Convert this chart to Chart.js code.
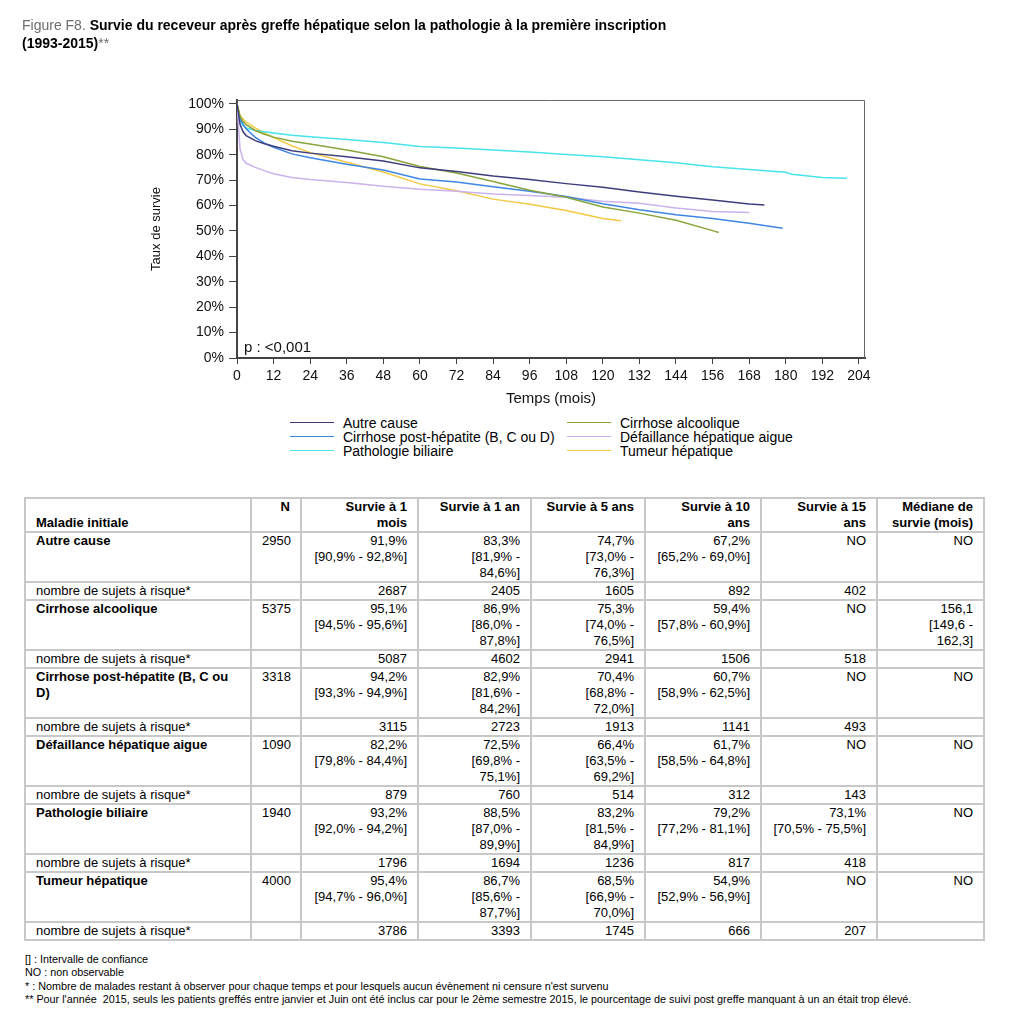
<!DOCTYPE html>
<html>
<head>
<meta charset="utf-8">
<script src="https://cdn.jsdelivr.net/npm/chart.js@4.4.1/dist/chart.umd.min.js"></script>
<style>
  body { margin: 0; width: 1020px; height: 1020px; position: relative; background: #fff;
         font-family: Arial, "Liberation Sans", sans-serif; color: #000; overflow: hidden; }
  #chartBox { position: absolute; left: 0; top: 0; width: 1020px; height: 410px; }
  .title { position: absolute; left: 22px; font-size: 14px; font-weight: bold; line-height: 18px; }
  .title .fig { color: #6e6e6e; font-weight: normal; }
  .leg { position: absolute; font-size: 14px; line-height: 16px; height: 16px; white-space: nowrap; }
  .leg i { position: absolute; top: 7px; height: 0; border-top: 1.5px solid; width: 44px; }
  .leg span { position: absolute; left: 53px; }
  table { position: absolute; left: 24px; top: 497px; width: 959px; border-collapse: collapse;
          table-layout: fixed; font-size: 13px; }
  td, th { border: 2px solid #c8c8c8; padding: 0 10px; line-height: 16px; vertical-align: top;
           text-align: right; white-space: nowrap; overflow: hidden; }
  th { font-weight: bold; }
  td.l, th.l { text-align: left; }
  th.l { vertical-align: bottom; }
  td.b { font-weight: bold; }
  tr.hd { height: 34px; }
  tr.m { height: 50px; }
  tr.n { height: 18px; }
  .notes { position: absolute; left: 25px; top: 953px; font-size: 10.8px; line-height: 13.4px; white-space: nowrap; }
</style>
</head>
<body>
<div id="chartBox"><canvas id="survChart" width="1020" height="410"></canvas></div>

<div class="title" style="top:16px"><span class="fig">Figure F8.</span> Survie du receveur après greffe hépatique selon la pathologie à la première inscription</div>
<div class="title" style="top:34px">(1993-2015)<span class="fig">**</span></div>

<div id="legend"></div>

<table>
  <colgroup>
    <col style="width:226px"><col style="width:50px"><col style="width:117px"><col style="width:113px">
    <col style="width:114px"><col style="width:116px"><col style="width:116px"><col style="width:107px">
  </colgroup>
  <tr class="hd"><th class="l">Maladie initiale</th><th>N</th><th>Survie à 1<br>mois</th><th>Survie à 1 an</th><th>Survie à 5 ans</th><th>Survie à 10<br>ans</th><th>Survie à 15<br>ans</th><th>Médiane de<br>survie (mois)</th></tr>
  <tr class="m"><td class="l b">Autre cause</td><td>2950</td><td>91,9%<br>[90,9% - 92,8%]</td><td>83,3%<br>[81,9% -<br>84,6%]</td><td>74,7%<br>[73,0% -<br>76,3%]</td><td>67,2%<br>[65,2% - 69,0%]</td><td>NO</td><td>NO</td></tr>
  <tr class="n"><td class="l">nombre de sujets à risque*</td><td></td><td>2687</td><td>2405</td><td>1605</td><td>892</td><td>402</td><td></td></tr>
  <tr class="m"><td class="l b">Cirrhose alcoolique</td><td>5375</td><td>95,1%<br>[94,5% - 95,6%]</td><td>86,9%<br>[86,0% -<br>87,8%]</td><td>75,3%<br>[74,0% -<br>76,5%]</td><td>59,4%<br>[57,8% - 60,9%]</td><td>NO</td><td>156,1<br>[149,6 -<br>162,3]</td></tr>
  <tr class="n"><td class="l">nombre de sujets à risque*</td><td></td><td>5087</td><td>4602</td><td>2941</td><td>1506</td><td>518</td><td></td></tr>
  <tr class="m"><td class="l b">Cirrhose post-hépatite (B, C ou<br>D)</td><td>3318</td><td>94,2%<br>[93,3% - 94,9%]</td><td>82,9%<br>[81,6% -<br>84,2%]</td><td>70,4%<br>[68,8% -<br>72,0%]</td><td>60,7%<br>[58,9% - 62,5%]</td><td>NO</td><td>NO</td></tr>
  <tr class="n"><td class="l">nombre de sujets à risque*</td><td></td><td>3115</td><td>2723</td><td>1913</td><td>1141</td><td>493</td><td></td></tr>
  <tr class="m"><td class="l b">Défaillance hépatique aigue</td><td>1090</td><td>82,2%<br>[79,8% - 84,4%]</td><td>72,5%<br>[69,8% -<br>75,1%]</td><td>66,4%<br>[63,5% -<br>69,2%]</td><td>61,7%<br>[58,5% - 64,8%]</td><td>NO</td><td>NO</td></tr>
  <tr class="n"><td class="l">nombre de sujets à risque*</td><td></td><td>879</td><td>760</td><td>514</td><td>312</td><td>143</td><td></td></tr>
  <tr class="m"><td class="l b">Pathologie biliaire</td><td>1940</td><td>93,2%<br>[92,0% - 94,2%]</td><td>88,5%<br>[87,0% -<br>89,9%]</td><td>83,2%<br>[81,5% -<br>84,9%]</td><td>79,2%<br>[77,2% - 81,1%]</td><td>73,1%<br>[70,5% - 75,5%]</td><td>NO</td></tr>
  <tr class="n"><td class="l">nombre de sujets à risque*</td><td></td><td>1796</td><td>1694</td><td>1236</td><td>817</td><td>418</td><td></td></tr>
  <tr class="m"><td class="l b">Tumeur hépatique</td><td>4000</td><td>95,4%<br>[94,7% - 96,0%]</td><td>86,7%<br>[85,6% -<br>87,7%]</td><td>68,5%<br>[66,9% -<br>70,0%]</td><td>54,9%<br>[52,9% - 56,9%]</td><td>NO</td><td>NO</td></tr>
  <tr class="n"><td class="l">nombre de sujets à risque*</td><td></td><td>3786</td><td>3393</td><td>1745</td><td>666</td><td>207</td><td></td></tr>
</table>

<div class="notes">
  [] : Intervalle de confiance<br>
  NO : non observable<br>
  * : Nombre de malades restant à observer pour chaque temps et pour lesquels aucun évènement ni censure n'est survenu<br>
  ** Pour l'année&nbsp; 2015, seuls les patients greffés entre janvier et Juin ont été inclus car pour le 2ème semestre 2015, le pourcentage de suivi post greffe manquant à un an était trop élevé.
</div>

<script>
// Survival curves (months after transplant, % surviving)
const monthsAutre = [0, 1, 2, 3, 6, 9, 12, 18, 24, 36, 48, 60, 72, 84, 96, 108, 120, 132, 144, 156, 168, 173];
const survAutre   = [100, 91.9, 89, 87.5, 85.5, 84.3, 83.3, 81.5, 80.6, 79.2, 77.5, 74.8, 73.4, 71.6, 70.2, 68.6, 67.2, 65.3, 63.6, 62.2, 60.6, 60.2];

const monthsAlcool = [0, 1, 2, 3, 6, 9, 12, 18, 24, 36, 48, 60, 72, 84, 96, 108, 120, 132, 144, 156, 158];
const survAlcool   = [100, 95.1, 93, 91.8, 89.5, 88, 86.9, 85.3, 84.2, 81.8, 79.2, 75.3, 72.8, 69.4, 66, 63.2, 59.4, 57, 54.2, 50.1, 49.4];

const monthsPostHep = [0, 1, 2, 3, 6, 9, 12, 18, 24, 36, 48, 60, 72, 84, 96, 108, 120, 132, 144, 156, 168, 179];
const survPostHep   = [100, 94.2, 92, 90.2, 86.8, 84.5, 82.9, 80.3, 78.8, 76.2, 74, 70.4, 69.2, 67.4, 65.6, 63.5, 60.7, 58.3, 56.4, 54.9, 53, 51];

const monthsAigue = [0, 1, 2, 3, 6, 9, 12, 18, 24, 36, 48, 60, 72, 84, 96, 108, 120, 132, 144, 156, 168];
const survAigue   = [100, 82.2, 78, 76.6, 75, 73.7, 72.5, 71, 70.2, 69, 67.6, 66.4, 65.6, 64.5, 63.9, 63.2, 61.7, 60.9, 59, 57.6, 57.2];

const monthsBiliaire = [0, 1, 2, 3, 6, 9, 12, 18, 24, 36, 48, 60, 72, 84, 96, 108, 120, 132, 144, 156, 168, 180, 182, 192, 200];
const survBiliaire   = [100, 93.2, 91.5, 90.5, 89.5, 89, 88.5, 87.6, 87, 86, 84.8, 83.2, 82.6, 81.8, 81, 80.1, 79.2, 78, 76.8, 75.2, 74.2, 73.1, 72.3, 71, 70.7];

const monthsTumeur = [0, 1, 2, 3, 6, 9, 12, 18, 24, 36, 48, 60, 72, 84, 96, 108, 120, 126];
const survTumeur   = [100, 95.4, 94, 92.8, 90.5, 88.5, 86.7, 83.5, 80.8, 77, 73.2, 68.5, 65.8, 62.5, 60.5, 58, 54.9, 54];

const seriesNames = ["Autre cause", "Cirrhose alcoolique", "Cirrhose post-hépatite (B, C ou D)",
                     "Défaillance hépatique aigue", "Pathologie biliaire", "Tumeur hépatique"];
const seriesColors = ["#3d3d7d", "#88a43a", "#3f86e4", "#cbb2ec", "#48e4ea", "#f3c943"];
const xTickValues = [0, 12, 24, 36, 48, 60, 72, 84, 96, 108, 120, 132, 144, 156, 168, 180, 192, 204];
const yTickValues = [0, 10, 20, 30, 40, 50, 60, 70, 80, 90, 100];

const allMonths = [monthsAutre, monthsAlcool, monthsPostHep, monthsAigue, monthsBiliaire, monthsTumeur];
const allSurv = [survAutre, survAlcool, survPostHep, survAigue, survBiliaire, survTumeur];

// legend in two columns, same order as the original
const legend = document.getElementById("legend");
const legendPos = [[290, 415], [567, 415], [290, 429], [567, 429], [290, 443], [567, 443]];
seriesNames.forEach((name, i) => {
  const d = document.createElement("div");
  d.className = "leg";
  d.style.left = legendPos[i][0] + "px";
  d.style.top = legendPos[i][1] + "px";
  d.innerHTML = '<i style="border-color:' + seriesColors[i] + '"></i><span>' + name + '</span>';
  legend.appendChild(d);
});

const framePlugin = {
  id: "frame",
  afterDraw(chart) {
    const { ctx, chartArea: a } = chart;
    ctx.save();
    ctx.strokeStyle = "#666";
    ctx.lineWidth = 1;
    ctx.beginPath();
    ctx.moveTo(a.left, a.top + 0.5);
    ctx.lineTo(a.right - 0.5, a.top + 0.5);
    ctx.lineTo(a.right - 0.5, a.bottom);
    ctx.stroke();
    ctx.fillStyle = "#111";
    ctx.font = "15px Arial, 'Liberation Sans'";
    ctx.textBaseline = "middle";
    ctx.fillText("p : <0,001", a.left + 7, a.bottom - 10);
    ctx.restore();
  }
};

new Chart(document.getElementById("survChart"), {
  type: "line",
  data: {
    datasets: seriesNames.map((name, i) => ({
      label: name,
      data: allMonths[i].map((m, j) => ({ x: m, y: allSurv[i][j] })),
      borderColor: seriesColors[i],
      borderWidth: 1.5,
      pointRadius: 0,
      tension: 0,
      fill: false
    }))
  },
  options: {
    responsive: false,
    animation: false,
    layout: { padding: { left: 0, top: 100, right: 155, bottom: 2 } },
    plugins: { legend: { display: false }, tooltip: { enabled: false } },
    scales: {
      x: {
        type: "linear",
        min: 0,
        max: 206,
        afterBuildTicks: (s) => { s.ticks = xTickValues.map(v => ({ value: v })); },
        afterFit: (s) => { s.height = 50; },
        ticks: { color: "#111", font: { size: 14, family: "Arial" }, padding: 4, maxRotation: 0 },
        grid: { drawOnChartArea: false, drawTicks: true, tickLength: 6, color: "#444" },
        border: { display: true, color: "#444", width: 2 },
        title: { display: true, text: "Temps (mois)", color: "#111",
                 font: { size: 15, family: "Arial" }, padding: { top: 0, bottom: 0 } }
      },
      y: {
        min: 0,
        max: 101.5,
        afterBuildTicks: (s) => { s.ticks = yTickValues.map(v => ({ value: v })); },
        afterFit: (s) => { s.width = 237; },
        ticks: { color: "#111", font: { size: 14, family: "Arial" }, padding: 5,
                 callback: (v) => v + "%" },
        grid: { drawOnChartArea: false, drawTicks: true, tickLength: 8, color: "#444" },
        border: { display: true, color: "#444", width: 2 },
        title: { display: true, text: "Taux de survie", color: "#111",
                 font: { size: 13, family: "Arial" }, padding: { top: 149, bottom: 0 } }
      }
    }
  },
  plugins: [framePlugin]
});
</script>
</body>
</html>
